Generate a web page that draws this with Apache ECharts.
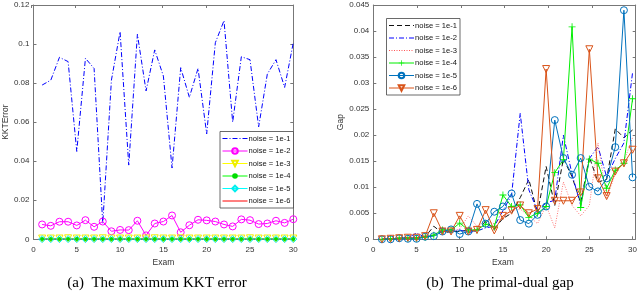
<!DOCTYPE html>
<html><head><meta charset="utf-8">
<script src="https://cdn.jsdelivr.net/npm/echarts@6/dist/echarts.min.js"></script>
<style>html,body{margin:0;padding:0;background:#fff}#c{width:640px;height:295px}</style>
</head><body><div id="c"></div>
<script>
const exams = [1,2,3,4,5,6,7,8,9,10,11,12,13,14,15,16,17,18,19,20,21,22,23,24,25,26,27,28,29,30];
const names = ['noise = 1e-1','noise = 1e-2','noise = 1e-3','noise = 1e-4','noise = 1e-5','noise = 1e-6'];
// (a) maximum KKT error
const kkt1 = [0.079,0.0815,0.0932,0.091,0.045,0.0927,0.0875,0.008,0.0815,0.1063,0.038,0.105,0.076,0.097,0.0836,0.0365,0.0879,0.0727,0.0875,0.054,0.1007,0.112,0.060,0.0935,0.092,0.0576,0.0846,0.092,0.0778,0.1007];
const kkt2 = [0.0076,0.0069,0.009,0.009,0.0071,0.0098,0.0064,0.0091,0.0041,0.0048,0.0047,0.0095,0.002,0.0081,0.0091,0.0122,0.0036,0.0072,0.01,0.0097,0.0091,0.0076,0.0066,0.0102,0.0098,0.0078,0.0081,0.0095,0.0084,0.0103];
const kkt3 = [0.0004,0.0004,0.0004,0.0005,0.0004,0.0004,0.0004,0.0005,0.0004,0.0004,0.0004,0.0004,0.0004,0.0005,0.0004,0.0004,0.0005,0.0004,0.0004,0.0004,0.0004,0.0004,0.0004,0.0004,0.0005,0.0004,0.0004,0.0004,0.0004,0.0004];
const kkt4 = [0.0001,0.0001,0.0001,0.0001,0.0001,0.0001,0.0001,0.0001,0.0001,0.0001,0.0001,0.0001,0.0001,0.0001,0.0001,0.0001,0.0001,0.0001,0.0001,0.0001,0.0001,0.0001,0.0001,0.0001,0.0001,0.0001,0.0001,0.0001,0.0001,0.0001];
const kkt5 = [0.0001,0.0001,0.0001,0.0001,0.0001,0.0001,0.0001,0.0001,0.0001,0.0001,0.0001,0.0001,0.0001,0.0001,0.0001,0.0001,0.0001,0.0001,0.0001,0.0001,0.0001,0.0001,0.0001,0.0001,0.0001,0.0001,0.0001,0.0001,0.0001,0.0001];
const kkt6 = [0.00005,0.00005,0.00005,0.00005,0.00005,0.00005,0.00005,0.00005,0.00005,0.00005,0.00005,0.00005,0.00005,0.00005,0.00005,0.00005,0.00005,0.00005,0.00005,0.00005,0.00005,0.00005,0.00005,0.00005,0.00005,0.00005,0.00005,0.00005,0.00005,0.00005];
// (b) primal-dual gap
const gap1 = [0,0.0001,0.0002,0.0002,0.0003,0.0005,0.0025,0.0012,0.0015,0.0015,0.0018,0.0015,0.0035,0.002,0.004,0.005,0.008,0.0115,0.005,0.014,0.0065,0.0155,0.012,0.007,0.0158,0.011,0.0115,0.0212,0.0195,0.021];
const gap2 = [0,0.0001,0.0002,0.0003,0.0012,0.0004,0.0008,0.0015,0.0016,0.0018,0.0013,0.0016,0.0022,0.0025,0.0055,0.0085,0.0242,0.0095,0.0055,0.007,0.0075,0.020,0.0125,0.0065,0.0155,0.0178,0.012,0.0155,0.0185,0.032];
const gap3 = [0,0.0001,0.0002,0.0002,0.0003,0.0005,0.0009,0.0018,0.0013,0.002,0.0045,0.0025,0.0035,0.003,0.0042,0.0055,0.0058,0.0045,0.003,0.0065,0.0022,0.011,0.0065,0.0045,0.0065,0.0185,0.008,0.0125,0.015,0.0195];
const gap4 = [0,0.0001,0.0002,0.0002,0.0002,0.0004,0.0008,0.0018,0.0018,0.0031,0.0018,0.0018,0.0029,0.0024,0.0085,0.0063,0.0066,0.0042,0.005,0.0063,0.0128,0.0153,0.0408,0.0061,0.0154,0.0146,0.0098,0.0133,0.0146,0.027];
const gap5 = [0,0,0.0002,0.0001,0.0001,0.0005,0.0006,0.0015,0.0019,0.001,0.0015,0.0068,0.003,0.0053,0.0063,0.0088,0.0037,0.003,0.0047,0.0063,0.0229,0.0156,0.0124,0.0156,0.0101,0.0092,0.0117,0.0177,0.044,0.0119];
const gap6 = [0,0.0001,0.0002,0.0003,0.0003,0.0006,0.005,0.0015,0.0015,0.0045,0.0015,0.0018,0.0056,0.0017,0.0045,0.0055,0.0065,0.005,0.0058,0.0327,0.0074,0.0074,0.0074,0.009,0.0365,0.0117,0.0083,0.013,0.0146,0.0172];

const pairs = a => exams.map((e,i)=>[e,a[i]]);
const axCol = '#777';
const txtCol = '#333';
const FONT = 'Liberation Sans';
const plusPath = 'path://M4.4,0H5.6V4.4H10V5.6H5.6V10H4.4V5.6H0V4.4H4.4Z';
const dashDot = [5,2,1,2];

function xAx(gi, pos, show){
  return {type:'value', gridIndex:gi, position:pos, min:0, max:30, interval:5,
    name: show ? 'Exam' : '', nameLocation:'middle', nameGap:19,
    nameTextStyle:{fontFamily:FONT,fontSize:8.5,color:txtCol},
    axisLine:{show:true,onZero:false,lineStyle:{color:axCol,width:1}},
    axisTick:{show:true,inside:true,length:3,lineStyle:{color:axCol}},
    axisLabel:{show:show,fontFamily:FONT,fontSize:8,color:txtCol,margin:6},
    splitLine:{show:false}};
}
function yAx(gi, pos, show, max, interval, name, gapN){
  return {type:'value', gridIndex:gi, position:pos, min:0, max:max, interval:interval,
    name: show ? name : '', nameLocation:'middle', nameGap:gapN, nameRotate:90,
    nameTextStyle:{fontFamily:FONT,fontSize:8.5,color:txtCol},
    axisLine:{show:true,onZero:false,lineStyle:{color:axCol,width:1}},
    axisTick:{show:true,inside:true,length:3,lineStyle:{color:axCol}},
    axisLabel:{show:show,fontFamily:FONT,fontSize:8,color:txtCol,margin:4},
    splitLine:{show:false}};
}
function ser(name, data, xi, yi, color, opt){
  return Object.assign({type:'line', name:name, data:pairs(data), xAxisIndex:xi, yAxisIndex:yi,
    symbol:'none', animation:false, z:3,
    lineStyle:{color:color,width:1,type:'solid'}, itemStyle:{color:color}}, opt||{});
}
const hollow = (c,bw)=>({color:'rgba(255,255,255,0)',borderColor:c,borderWidth:bw||1});

const leftNames = names;
const rightNames = names.map((n,i)=>'b'+i);
const leftNoMarker = [true,false,false,false,false,true];
const rightNoMarker = [true,true,true,false,false,false];

const series = [
  ser(leftNames[0], kkt1, 0, 0, '#0000ff', {lineStyle:{color:'#0000ff',width:1,type:dashDot}}),
  ser(leftNames[1], kkt2, 0, 0, '#ff00ff', {symbol:'circle', symbolSize:7, itemStyle:hollow('#ff00ff')}),
  ser(leftNames[2], kkt3, 0, 0, '#ffff00', {symbol:'triangle', symbolRotate:180, symbolSize:7, itemStyle:hollow('#eeee00')}),
  ser(leftNames[3], kkt4, 0, 0, '#00ff00', {symbol:'circle', symbolSize:4, itemStyle:{color:'#00dd00'}}),
  ser(leftNames[4], kkt5, 0, 0, '#00ffff', {symbol:'diamond', symbolSize:7, itemStyle:hollow('#00eeee')}),
  ser(leftNames[5], kkt6, 0, 0, '#ff0000'),
  ser(rightNames[0], gap1, 2, 2, '#111111', {lineStyle:{color:'#111',width:1,type:[5,3]}}),
  ser(rightNames[1], gap2, 2, 2, '#0000ff', {lineStyle:{color:'#0000ff',width:1,type:dashDot}}),
  ser(rightNames[2], gap3, 2, 2, '#ff5555', {lineStyle:{color:'#ff5555',width:0.8,type:[1,1.5]}}),
  ser(rightNames[3], gap4, 2, 2, '#00ee00', {symbol:plusPath, symbolSize:7, itemStyle:{color:'#00ee00'}}),
  ser(rightNames[4], gap5, 2, 2, '#0072BD', {symbol:'circle', symbolSize:7, itemStyle:hollow('#0072BD')}),
  ser(rightNames[5], gap6, 2, 2, '#D95319', {symbol:'triangle', symbolRotate:180, symbolSize:7, itemStyle:hollow('#D95319')})
];

const legendBase = {orient:'vertical', itemWidth:25, itemHeight:7, itemGap:4.5,
  padding:[3,3,3,2], backgroundColor:'#fff', borderColor:'#444', borderWidth:0.8,
  textStyle:{fontFamily:FONT,fontSize:7.6,color:'#111',padding:[0,0,0,-4]}, selectedMode:false};

const legData = (arr, nm) => arr.map((n,i)=> nm[i] ? {name:n, itemStyle:{opacity:0}, lineStyle:{width:1}} : {name:n, lineStyle:{width:1}});

const option = {
  animation:false,
  backgroundColor:'#fff',
  grid:[
    {left:31.7, right:346.7, top:5, bottom:55.7},
    {left:31.7, right:346.7, top:5, bottom:55.7},
    {left:373.3, right:4.3, top:5, bottom:55.7},
    {left:373.3, right:4.3, top:5, bottom:55.7}
  ],
  xAxis:[ xAx(0,'bottom',true), xAx(1,'top',false), xAx(2,'bottom',true), xAx(3,'top',false) ],
  yAxis:[ yAx(0,'left',true,0.12,0.02,'KKTError',23), yAx(1,'right',false,0.12,0.02,'',0),
          yAx(2,'left',true,0.045,0.005,'Gap',27), yAx(3,'right',false,0.045,0.005,'',0) ],
  legend:[
    Object.assign({}, legendBase, {data:legData(leftNames,leftNoMarker), left:220, top:131.5}),
    Object.assign({}, legendBase, {data:legData(rightNames,rightNoMarker), left:386.5, top:18.5,
      formatter: n => names[rightNames.indexOf(n)]})
  ],
  graphic:[
    {type:'text', style:{text:'(a)  The maximum KKT error', x:157, y:291, textAlign:'center', textVerticalAlign:'bottom',
      font:'15px "Liberation Serif", "Times New Roman", serif', fill:'#000'}},
    {type:'text', style:{text:'(b)  The primal-dual gap', x:500, y:291, textAlign:'center', textVerticalAlign:'bottom',
      font:'15px "Liberation Serif", "Times New Roman", serif', fill:'#000'}}
  ],
  series: series
};
const chart = echarts.init(document.getElementById('c'), null, {renderer:'canvas'});
chart.setOption(option);
</script></body></html>
